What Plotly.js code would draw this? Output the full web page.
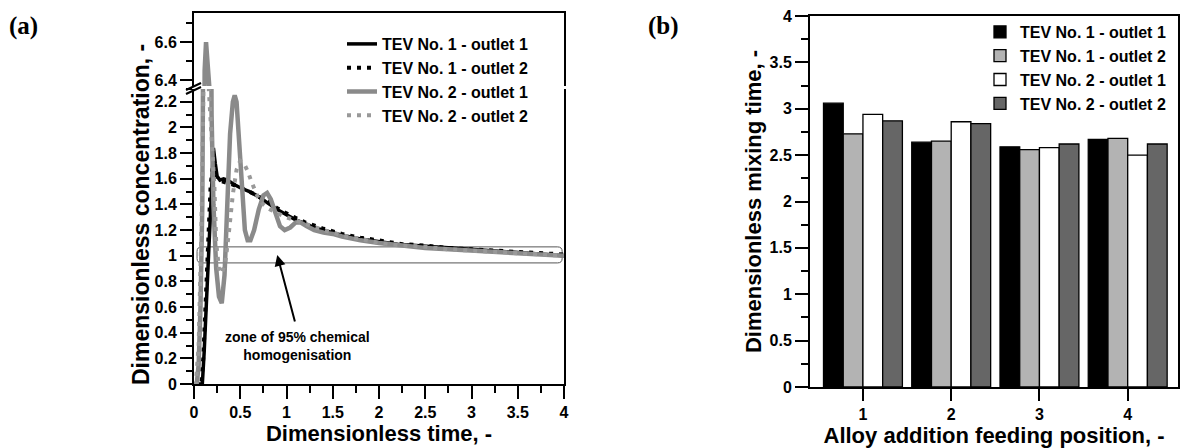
<!DOCTYPE html>
<html>
<head>
<meta charset="utf-8">
<script src="https://cdn.plot.ly/plotly-3.0.1.min.js"></script>
<style>html,body{margin:0;padding:0;background:#fff;}#chart{width:1182px;height:448px;}</style>
</head>
<body>
<div id="chart"></div>
<script>
// ---------- Panel (a): dimensionless concentration vs dimensionless time ----------
const t_tev1_out1 = [0, 0.09, 0.11, 0.13, 0.15, 0.17, 0.19, 0.21, 0.23, 0.25, 0.28, 0.32, 0.36, 0.4, 0.45, 0.5, 0.6, 0.7, 0.8, 0.9, 1.0, 1.1, 1.2, 1.3, 1.4, 1.5, 1.6, 1.8, 2.0, 2.2, 2.4, 2.6, 2.8, 3.0, 3.2, 3.4, 3.6, 3.8, 4.0];
const c_tev1_out1 = [0, 0, 0.25, 0.6, 0.95, 1.3, 1.6, 1.84, 1.72, 1.62, 1.59, 1.6, 1.59, 1.57, 1.55, 1.53, 1.5, 1.46, 1.41, 1.36, 1.32, 1.28, 1.25, 1.22, 1.2, 1.18, 1.16, 1.13, 1.11, 1.09, 1.08, 1.07, 1.06, 1.05, 1.04, 1.03, 1.02, 1.01, 1.0];

const t_tev1_out2 = [0, 0.08, 0.1, 0.12, 0.14, 0.16, 0.18, 0.2, 0.22, 0.25, 0.3, 0.35, 0.4, 0.5, 0.6, 0.7, 0.8, 0.9, 1.0, 1.2, 1.4, 1.6, 1.8, 2.0, 2.25, 2.5, 2.75, 3.0, 3.25, 3.5, 3.75, 4.0];
const c_tev1_out2 = [0, 0, 0.2, 0.55, 0.95, 1.3, 1.55, 1.68, 1.64, 1.6, 1.58, 1.57, 1.56, 1.53, 1.5, 1.46, 1.42, 1.37, 1.33, 1.26, 1.21, 1.17, 1.14, 1.12, 1.09, 1.08, 1.06, 1.05, 1.04, 1.03, 1.02, 1.01];

const t_tev2_out1 = [0, 0.03, 0.05, 0.07, 0.09, 0.1, 0.105, 0.115, 0.13, 0.145, 0.165, 0.175, 0.19, 0.21, 0.24, 0.27, 0.3, 0.33, 0.36, 0.39, 0.42, 0.44, 0.46, 0.49, 0.52, 0.55, 0.58, 0.61, 0.65, 0.7, 0.75, 0.79, 0.83, 0.88, 0.93, 0.98, 1.04, 1.1, 1.15, 1.22, 1.3, 1.4, 1.5, 1.6, 1.8, 2.0, 2.25, 2.5, 2.75, 3.0, 3.25, 3.5, 3.75, 4.0];
const c_tev2_out1 = [0, 0, 0.15, 0.6, 1.4, 2.3, 5.0, 6.45, 6.6, 6.5, 6.37, 4.5, 2.1, 1.4, 0.9, 0.68, 0.63, 0.85, 1.4, 1.95, 2.2, 2.25, 2.2, 1.85, 1.45, 1.2, 1.12, 1.12, 1.2, 1.36, 1.47, 1.49, 1.44, 1.32, 1.23, 1.2, 1.22, 1.26, 1.26, 1.23, 1.2, 1.18, 1.17, 1.15, 1.12, 1.1, 1.08, 1.06, 1.05, 1.04, 1.03, 1.02, 1.01, 1.0];

const t_tev2_out2 = [0, 0.02, 0.05, 0.08, 0.1, 0.12, 0.14, 0.16, 0.19, 0.22, 0.24, 0.27, 0.3, 0.34, 0.38, 0.42, 0.46, 0.5, 0.54, 0.58, 0.62, 0.66, 0.7, 0.75, 0.8, 0.9, 1.0, 1.2, 1.4, 1.6, 1.8, 2.0, 2.25, 2.5, 2.75, 3.0, 3.25, 3.5, 3.75, 4.0];
const c_tev2_out2 = [0, 0, 0.3, 1.2, 2.2, 3.8, 3.0, 2.3, 1.9, 1.55, 1.1, 0.9, 0.86, 0.95, 1.2, 1.48, 1.67, 1.74, 1.72, 1.66, 1.58, 1.5, 1.44, 1.4, 1.37, 1.33, 1.3, 1.25, 1.2, 1.16, 1.13, 1.1, 1.08, 1.07, 1.05, 1.04, 1.03, 1.02, 1.01, 1.0];

const seriesNames = ['TEV No. 1 - outlet 1', 'TEV No. 1 - outlet 2', 'TEV No. 2 - outlet 1', 'TEV No. 2 - outlet 2'];

// ---------- Panel (b): dimensionless mixing time vs feeding position ----------
const feedingPositions = [1, 2, 3, 4];
const mix_tev1_out1 = [3.06, 2.64, 2.59, 2.67];
const mix_tev1_out2 = [2.73, 2.65, 2.56, 2.68];
const mix_tev2_out1 = [2.94, 2.86, 2.58, 2.50];
const mix_tev2_out2 = [2.87, 2.84, 2.62, 2.62];

// ---------- layout helpers ----------
const W = 1182, H = 448;
const px = x => x / W;
const py = y => 1 - y / H;
const SANS = 'Liberation Sans, Arial, sans-serif';
const TICKF = {family: SANS, size: 16, weight: 'bold', color: '#000'};
const TITLEF = {family: SANS, size: 22, weight: 'bold', color: '#000'};
const BLACK = '#000000', GRAY = '#8a8a8a';

const lineSeries = [
  {t: t_tev1_out1, c: c_tev1_out1, color: BLACK, dash: 'solid', width: 3.5},
  {t: t_tev1_out2, c: c_tev1_out2, color: BLACK, dash: '4px,6px', width: 4},
  {t: t_tev2_out1, c: c_tev2_out1, color: GRAY, dash: 'solid', width: 4.5},
  {t: t_tev2_out2, c: c_tev2_out2, color: '#999999', dash: '4px,6px', width: 4}
];

const traces = [];
lineSeries.forEach((s, i) => {
  traces.push({type: 'scatter', mode: 'lines', x: s.t, y: s.c, xaxis: 'x', yaxis: 'y',
    name: seriesNames[i], legend: 'legend',
    line: {color: s.color, width: s.width, dash: s.dash}});
});
// upper (broken) segment of the y axis: same series drawn against the upper axis
lineSeries.forEach((s, i) => {
  traces.push({type: 'scatter', mode: 'lines', x: s.t, y: s.c, xaxis: 'x2', yaxis: 'y2',
    name: seriesNames[i], showlegend: false, hoverinfo: 'skip',
    line: {color: s.color, width: s.width, dash: s.dash}});
});

const barSeries = [mix_tev1_out1, mix_tev1_out2, mix_tev2_out1, mix_tev2_out2];
const barColors = ['#000000', '#b3b3b3', '#ffffff', '#666666'];
barSeries.forEach((vals, i) => {
  traces.push({type: 'bar', x: feedingPositions, y: vals, xaxis: 'x3', yaxis: 'y3',
    name: seriesNames[i], legend: 'legend2',
    marker: {color: barColors[i], line: {color: '#000', width: 1.3}}});
});

const axBase = {showline: true, linewidth: 2, linecolor: '#000', showgrid: false, zeroline: false,
  ticks: 'outside', tickwidth: 2, tickcolor: '#000', tickfont: TICKF, automargin: false, fixedrange: true};

// zone of 95 % homogenisation (rounded rectangle in data units)
const zx0 = 0.033, zx1 = 3.98, zy0 = 0.944, zy1 = 1.069, rx = 0.05, ry = 0.035;
const zonePath = `M${zx0+rx},${zy0} L${zx1-rx},${zy0} Q${zx1},${zy0} ${zx1},${zy0+ry} L${zx1},${zy1-ry} Q${zx1},${zy1} ${zx1-rx},${zy1} L${zx0+rx},${zy1} Q${zx0},${zy1} ${zx0},${zy1-ry} L${zx0},${zy0+ry} Q${zx0},${zy0} ${zx0+rx},${zy0} Z`;

const LEGF = {family: SANS, size: 16, weight: 'bold', color: '#000'};

const layout = {
  width: W, height: H,
  margin: {l: 0, r: 0, t: 0, b: 0},
  paper_bgcolor: '#fff', plot_bgcolor: 'rgba(0,0,0,0)',
  barmode: 'group', bargap: 0.106, bargroupgap: 0,
  xaxis: Object.assign({}, axBase, {domain: [px(194), px(564)], range: [0, 4], anchor: 'y',
    tick0: 0, dtick: 0.5, ticklen: 13,
    minor: {dtick: 0.25, ticks: 'outside', ticklen: 7, tickwidth: 2, tickcolor: '#000'},
    title: {text: 'Dimensionless time, -', font: TITLEF, standoff: 2}}),
  xaxis2: {domain: [px(194), px(564)], range: [0, 4], anchor: 'y2', side: 'top',
    showline: true, linewidth: 2, linecolor: '#000', ticks: '', showticklabels: false,
    showgrid: false, zeroline: false, fixedrange: true},
  yaxis: Object.assign({}, axBase, {domain: [py(384), py(89)], range: [0, 2.3], anchor: 'x',
    mirror: true, tick0: 0, dtick: 0.2, ticklen: 12,
    minor: {dtick: 0.1, ticks: 'outside', ticklen: 6, tickwidth: 2, tickcolor: '#000'}}),
  yaxis2: Object.assign({}, axBase, {domain: [py(86), py(13)], range: [6.37, 6.753], anchor: 'x2',
    mirror: true, tick0: 6.4, dtick: 0.2, ticklen: 12,
    minor: {dtick: 0.1, ticks: 'outside', ticklen: 6, tickwidth: 2, tickcolor: '#000'}}),
  xaxis3: Object.assign({}, axBase, {domain: [px(810), px(1178)], range: [0.4, 4.57], anchor: 'y3',
    mirror: true, tickvals: feedingPositions, ticklen: 12,
    title: {text: 'Alloy addition feeding position, -', font: TITLEF, standoff: 2}}),
  yaxis3: Object.assign({}, axBase, {domain: [py(387), py(16)], range: [0, 4], anchor: 'x3',
    mirror: true, tick0: 0, dtick: 0.5, ticklen: 13,
    minor: {dtick: 0.25, ticks: 'outside', ticklen: 7, tickwidth: 2, tickcolor: '#000'},
    title: {text: 'Dimensionless mixing time, -', font: TITLEF, standoff: 2}}),
  legend: {x: px(342), y: py(27), xanchor: 'left', yanchor: 'top', bgcolor: 'rgba(0,0,0,0)',
    borderwidth: 0, font: LEGF, tracegroupgap: 0},
  legend2: {x: px(980), y: py(15), xanchor: 'left', yanchor: 'top', bgcolor: 'rgba(0,0,0,0)',
    borderwidth: 0, font: LEGF, tracegroupgap: 0},
  shapes: [
    {type: 'path', xref: 'x', yref: 'y', path: zonePath, line: {color: '#555', width: 1}, layer: 'below'},
    {type: 'line', xref: 'paper', yref: 'paper', x0: px(186), y0: py(90), x1: px(201), y1: py(83), line: {color: '#000', width: 2}},
    {type: 'line', xref: 'paper', yref: 'paper', x0: px(186), y0: py(94), x1: px(201), y1: py(87), line: {color: '#000', width: 2}}
  ],
  annotations: [
    {xref: 'paper', yref: 'paper', x: px(141), y: py(215), text: 'Dimensionless concentration, -',
     textangle: -90, showarrow: false, font: {family: SANS, size: 23, weight: 'bold', color: '#000'}, xanchor: 'center', yanchor: 'middle'},
    {xref: 'x', yref: 'y', x: 1.117, y: 0.30, text: 'zone of 95% chemical<br>homogenisation',
     showarrow: false, font: {family: SANS, size: 14, weight: 'bold', color: '#000'}, align: 'center'},
    {xref: 'x', yref: 'y', x: 0.90, y: 1.006, axref: 'x', ayref: 'y', ax: 1.095, ay: 0.476, text: '',
     showarrow: true, arrowhead: 2, arrowsize: 1.1, arrowwidth: 2, arrowcolor: '#000', standoff: 0},
    {xref: 'paper', yref: 'paper', x: px(23), y: py(26), xanchor: 'center', yanchor: 'middle', text: '(a)', showarrow: false,
     font: {family: 'Liberation Serif, DejaVu Serif, serif', size: 25, weight: 'bold', color: '#000'}},
    {xref: 'paper', yref: 'paper', x: px(663), y: py(26), xanchor: 'center', yanchor: 'middle', text: '(b)', showarrow: false,
     font: {family: 'Liberation Serif, DejaVu Serif, serif', size: 25, weight: 'bold', color: '#000'}}
  ]
};

Plotly.newPlot('chart', traces, layout, {displayModeBar: false, staticPlot: true});
</script>
</body>
</html>
